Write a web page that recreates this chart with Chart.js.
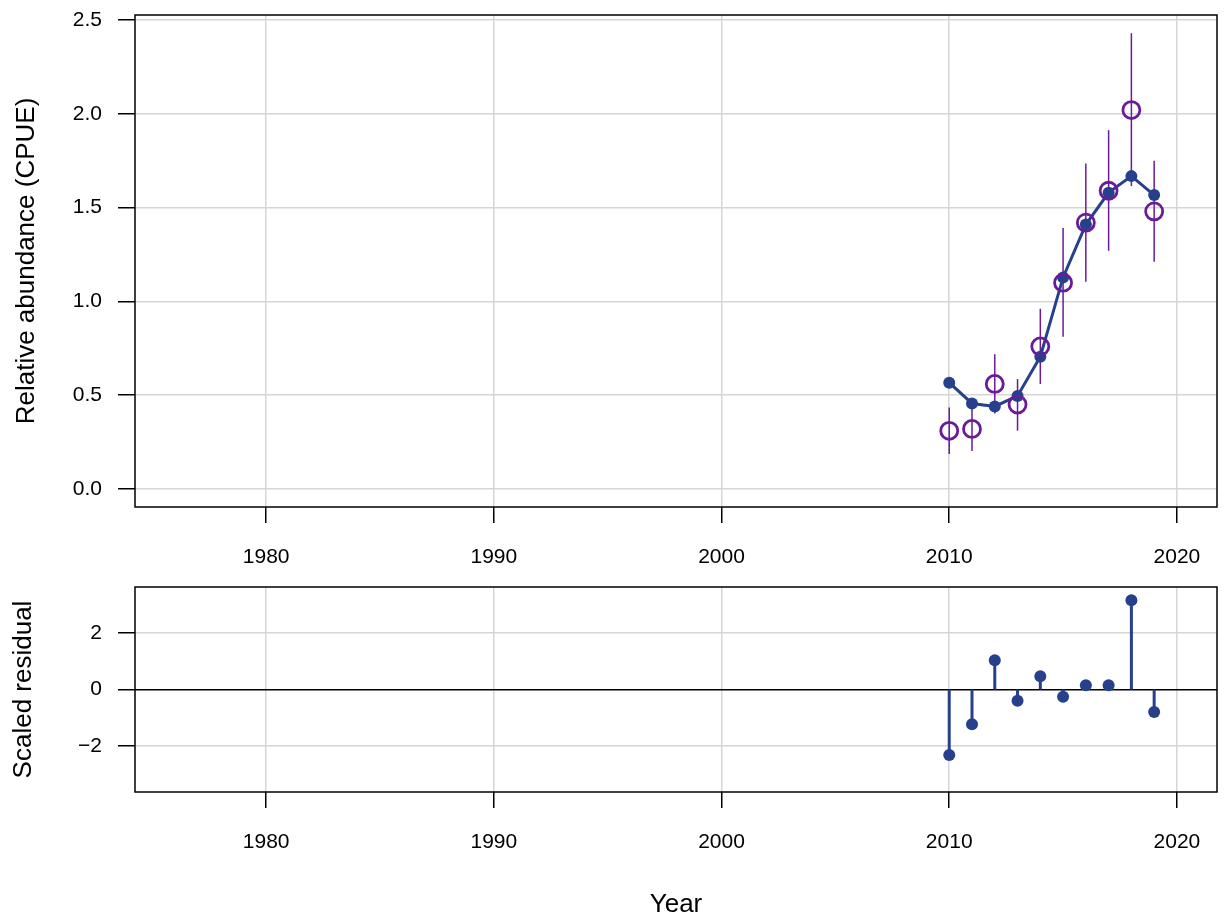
<!DOCTYPE html>
<html>
<head>
<meta charset="utf-8">
<script src="https://cdn.jsdelivr.net/npm/chart.js@4.4.1/dist/chart.umd.min.js"></script>
<style>
  html, body { margin: 0; padding: 0; background: #fff; overflow: hidden; }
  canvas { display: block; position: absolute; left: 0; }
  #top { top: 0; }
  #bottom { top: 575px; }
</style>
</head>
<body>
<canvas id="top" width="1225" height="575"></canvas>
<canvas id="bottom" width="1225" height="348"></canvas>
<script>
// index data
const years = [2010, 2011, 2012, 2013, 2014, 2015, 2016, 2017, 2018, 2019];
const observed = [0.31, 0.32, 0.56, 0.45, 0.76, 1.10, 1.42, 1.59, 2.02, 1.48];
const fitted = [0.567, 0.456, 0.44, 0.496, 0.705, 1.128, 1.41, 1.58, 1.668, 1.567];
const ciLow = [0.187, 0.202, 0.403, 0.311, 0.560, 0.812, 1.105, 1.270, 1.615, 1.211];
const ciHigh = [0.435, 0.45, 0.719, 0.586, 0.961, 1.391, 1.735, 1.913, 2.43, 1.750];
const residuals = [-2.33, -1.23, 1.04, -0.40, 0.47, -0.26, 0.15, 0.15, 3.17, -0.80];

const xTicks = [1980, 1990, 2000, 2010, 2020];
const cpueTicks = [0, 0.5, 1, 1.5, 2, 2.5];
const residTicks = [-2, 0, 2];

const blue = '#27408B';
const purple = '#6A1B9A';
const gridGrey = '#d6d6d6';
const fontFamily = '"Liberation Sans", Arial, Helvetica, sans-serif';
const tickFont = { family: fontFamily, size: 21 };
const titleFont = { family: fontFamily, size: 26 };

const frame = {
    id: 'frame',
    beforeDatasetsDraw(chart) {
        const { ctx, chartArea: a } = chart;
        ctx.save();
        ctx.strokeStyle = '#000';
        ctx.lineWidth = 1.5;
        ctx.strokeRect(a.left, a.top, a.right - a.left, a.bottom - a.top);
        ctx.restore();
    }
};

function xAxis(height, title) {
    return {
        type: 'linear',
        min: 1974.24,
        max: 2021.76,
        offset: false,
        afterBuildTicks: a => { a.ticks = xTicks.map(v => ({ value: v })); },
        afterFit: a => { a.height = height; a.paddingLeft = 0; a.paddingRight = 0; },
        border: { display: false },
        grid: { color: gridGrey, lineWidth: 1.5, tickColor: '#000', tickLength: 16, tickWidth: 1.5, offset: false },
        ticks: { color: '#000', font: tickFont, padding: 22, maxRotation: 0, autoSkip: false, callback: v => String(v) },
        title: title ? { display: true, text: title, color: '#000', font: titleFont, padding: { top: 0, bottom: 3 } } : { display: false }
    };
}

function yAxis(min, max, tickVals, fmt, title, titlePad, gridColor) {
    return {
        type: 'linear',
        min: min,
        max: max,
        afterBuildTicks: a => { a.ticks = tickVals.map(v => ({ value: v })); },
        afterFit: a => { a.width = 135; a.paddingTop = 0; a.paddingBottom = 0; },
        border: { display: false },
        grid: { color: gridColor, lineWidth: 1.5, tickColor: '#000', tickLength: 17, tickWidth: 1.5 },
        ticks: { color: '#000', font: tickFont, padding: 16, callback: fmt },
        title: { display: true, text: title, color: '#000', font: titleFont, padding: { top: titlePad, bottom: 0 } }
    };
}

const errorBars = years.map((yr, i) => ({
    type: 'line',
    data: [{ x: yr, y: ciLow[i] }, { x: yr, y: ciHigh[i] }],
    borderColor: purple,
    borderWidth: 1.5,
    pointRadius: 0,
    order: 2
}));

new Chart(document.getElementById('top'), {
    type: 'line',
    data: {
        datasets: [
            {
                label: 'Observed',
                data: years.map((yr, i) => ({ x: yr, y: observed[i] })),
                showLine: false,
                pointRadius: 8.5,
                pointBorderWidth: 2.8,
                pointBorderColor: purple,
                pointBackgroundColor: 'rgba(0,0,0,0)',
                order: 0
            },
            {
                label: 'Fitted',
                data: years.map((yr, i) => ({ x: yr, y: fitted[i] })),
                borderColor: blue,
                borderWidth: 3,
                pointRadius: 6,
                pointBorderWidth: 0,
                pointBackgroundColor: blue,
                tension: 0,
                order: 1
            },
            ...errorBars
        ]
    },
    options: {
        responsive: false,
        animation: false,
        devicePixelRatio: 1,
        layout: { autoPadding: false, padding: { top: 15, right: 8, left: 0, bottom: 0 } },
        plugins: { legend: { display: false }, tooltip: { enabled: false } },
        scales: {
            x: xAxis(68, null),
            y: yAxis(-0.096, 2.527, cpueTicks, v => v.toFixed(1), 'Relative abundance (CPUE)', 11, gridGrey)
        }
    },
    plugins: [frame]
});

new Chart(document.getElementById('bottom'), {
    type: 'line',
    data: {
        datasets: [
            {
                label: 'Residual',
                data: years.map((yr, i) => ({ x: yr, y: residuals[i] })),
                showLine: false,
                pointRadius: 6,
                pointBorderWidth: 0,
                pointBackgroundColor: blue,
                order: 0
            },
            ...years.map((yr, i) => ({
                type: 'line',
                data: [{ x: yr, y: 0 }, { x: yr, y: residuals[i] }],
                borderColor: blue,
                borderWidth: 3,
                pointRadius: 0,
                order: 1
            }))
        ]
    },
    options: {
        responsive: false,
        animation: false,
        devicePixelRatio: 1,
        layout: { autoPadding: false, padding: { top: 12, right: 8, left: 0, bottom: 0 } },
        plugins: { legend: { display: false }, tooltip: { enabled: false } },
        scales: {
            x: xAxis(131, 'Year'),
            y: yAxis(-3.64, 3.64, residTicks,
                v => (v < 0 ? '\u2212' + Math.abs(v) : String(v)),
                'Scaled residual', 8,
                c => (c.tick && c.tick.value === 0 ? '#000' : gridGrey))
        }
    },
    plugins: [frame]
});
</script>
</body>
</html>
